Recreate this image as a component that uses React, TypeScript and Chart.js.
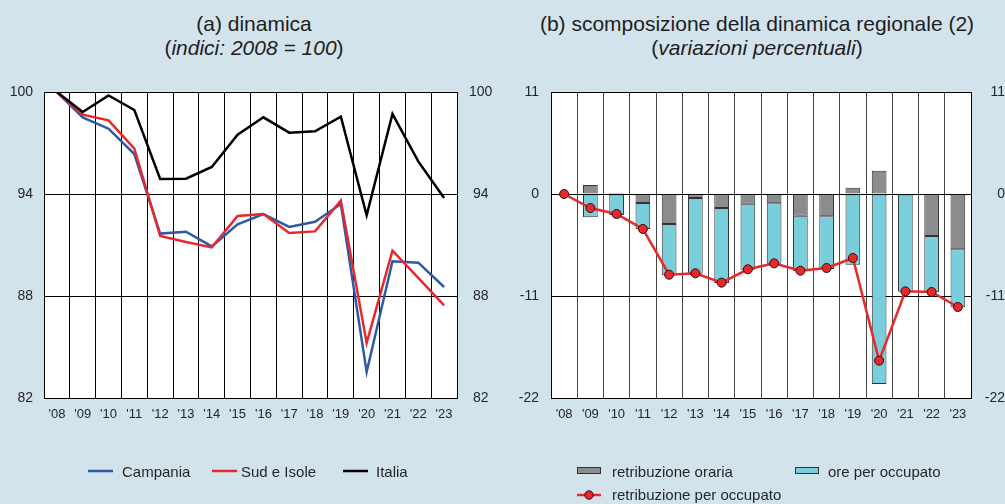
import React, { useEffect, useRef } from 'react';
import { Chart, registerables } from 'chart.js';

Chart.register(...registerables);

// ---------- data ----------
const years = ["'08", "'09", "'10", "'11", "'12", "'13", "'14", "'15", "'16", "'17", "'18", "'19", "'20", "'21", "'22", "'23"];

const campania = [100, 98.51, 97.84, 96.35, 91.67, 91.78, 90.92, 92.22, 92.82, 92.06, 92.37, 93.41, 83.53, 90.04, 89.96, 88.53];
const sudIsole = [100, 98.67, 98.33, 96.67, 91.53, 91.18, 90.86, 92.71, 92.82, 91.71, 91.8, 93.61, 85.24, 90.67, 89.06, 87.45];
const italia = [100, 98.82, 99.8, 98.94, 94.88, 94.9, 95.59, 97.49, 98.51, 97.61, 97.69, 98.55, 92.75, 98.71, 95.92, 93.76];

const retribOraria = [0, 0.97, 0.11, -0.97, -3.24, -0.43, -1.51, -1.04, -1.01, -2.34, -2.41, 0.68, 2.52, 0, -4.53, -5.97];
const orePerOccupato = [0, -2.52, -2.26, -2.8, -5.53, -8.16, -8.09, -7.12, -6.5, -6.0, -5.68, -7.62, -20.49, -10.53, -6.07, -6.25];
const retribPerOccupato = [0, -1.51, -2.16, -3.77, -8.7, -8.55, -9.56, -8.12, -7.48, -8.27, -7.98, -6.9, -17.97, -10.5, -10.57, -12.19];

const leftTicks = { min: 82, max: 100, step: 6 };
const rightTicks = { min: -22, max: 11, step: 11 };

const FONT = '"Liberation Sans", Arial, Helvetica, sans-serif';
const TEXT = '#262626';
const BG = '#d3e3ec';
const BLUE = '#2a5aa8';
const RED = '#e8282c';
const GREY = '#8a8c8d';
const CYAN = '#78cfdb';

const plotBg = {
  id: 'plotBg',
  beforeDraw(chart: any) {
    const { ctx, chartArea } = chart;
    ctx.save();
    ctx.fillStyle = '#ffffff';
    ctx.fillRect(chartArea.left, chartArea.top, chartArea.right - chartArea.left, chartArea.bottom - chartArea.top);
    ctx.restore();
  },
};

// legend for left panel: line samples
const leftLegend = {
  id: 'leftLegend',
  afterDraw(chart: any) {
    const { ctx } = chart;
    const pos = [
      { lx: 88, tx: 122 },
      { lx: 212, tx: 241 },
      { lx: 343, tx: 376 },
    ];
    ctx.save();
    ctx.font = `15px ${FONT}`;
    ctx.textBaseline = 'alphabetic';
    ctx.textAlign = 'left';
    chart.data.datasets.forEach((ds: any, i: number) => {
      const p = pos[i];
      ctx.strokeStyle = ds.borderColor;
      ctx.lineWidth = 2.5;
      ctx.beginPath();
      ctx.moveTo(p.lx, 471);
      ctx.lineTo(p.lx + 25, 471);
      ctx.stroke();
      ctx.fillStyle = TEXT;
      ctx.fillText(ds.label, p.tx, 476.5);
    });
    ctx.restore();
  },
};

// legend for right panel (canvas starts at page x = 505)
const rightLegend = {
  id: 'rightLegend',
  afterDraw(chart: any) {
    const { ctx } = chart;
    const ds = chart.data.datasets;
    ctx.save();
    ctx.font = `15px ${FONT}`;
    ctx.textBaseline = 'alphabetic';
    ctx.textAlign = 'left';
    // retribuzione oraria
    const boxes = [
      { d: ds[1], bx: 72, tx: 107 },
      { d: ds[2], bx: 290, tx: 323 },
    ];
    boxes.forEach((b) => {
      ctx.fillStyle = b.d.backgroundColor;
      ctx.fillRect(b.bx, 467, 24, 7);
      ctx.strokeStyle = '#333';
      ctx.lineWidth = 1;
      ctx.strokeRect(b.bx + 0.5, 467.5, 23, 6);
      ctx.fillStyle = TEXT;
      ctx.fillText(b.d.label, b.tx, 476.5);
    });
    // retribuzione per occupato
    const l = ds[0];
    ctx.strokeStyle = l.borderColor;
    ctx.lineWidth = 2.5;
    ctx.beginPath();
    ctx.moveTo(72, 495);
    ctx.lineTo(96, 495);
    ctx.stroke();
    ctx.beginPath();
    ctx.arc(84, 495, 4.2, 0, Math.PI * 2);
    ctx.fillStyle = l.pointBackgroundColor;
    ctx.fill();
    ctx.strokeStyle = l.pointBorderColor;
    ctx.lineWidth = 1;
    ctx.stroke();
    ctx.fillStyle = TEXT;
    ctx.fillText(l.label, 107, 500);
    ctx.restore();
  },
};

function xScale(gridColor: string) {
  return {
    type: 'category',
    offset: true,
    grid: { offset: true, color: gridColor, lineWidth: 1, drawTicks: false },
    border: { color: '#000', width: 1 },
    ticks: { font: { family: FONT, size: 13 }, color: TEXT, padding: 9, maxRotation: 0, autoSkip: false },
    afterFit: (s: any) => {
      s.height = 30;
    },
  };
}

function yScale(t: { min: number; max: number; step: number }, position: string, width: number, extra: any) {
  return {
    position,
    min: t.min,
    max: t.max,
    ticks: { stepSize: t.step, font: { family: FONT, size: 14 }, color: TEXT, ...extra },
    grid: position === 'left' ? { color: '#000', lineWidth: 1, drawTicks: false } : { display: false, drawTicks: false },
    border: { color: '#000', width: 1 },
    afterFit: (s: any) => {
      s.width = width;
    },
  };
}

export default function App() {
  const leftRef = useRef<HTMLCanvasElement>(null);
  const rightRef = useRef<HTMLCanvasElement>(null);

  useEffect(() => {
    const left = new Chart(leftRef.current as HTMLCanvasElement, {
      type: 'line',
      data: {
        labels: years,
        datasets: [
          { label: 'Campania', data: campania, borderColor: BLUE, backgroundColor: BLUE, borderWidth: 2.5, pointRadius: 0, tension: 0, order: 2 },
          { label: 'Sud e Isole', data: sudIsole, borderColor: RED, backgroundColor: RED, borderWidth: 2.5, pointRadius: 0, tension: 0, order: 1 },
          { label: 'Italia', data: italia, borderColor: '#000', backgroundColor: '#000', borderWidth: 2.5, pointRadius: 0, tension: 0, order: 0 },
        ],
      } as any,
      options: {
        animation: false,
        responsive: false,
        maintainAspectRatio: false,
        layout: { padding: { top: 92, bottom: 76, left: 0, right: 5 } },
        plugins: { legend: { display: false }, tooltip: { enabled: false }, title: { display: false } },
        scales: {
          x: xScale('#000'),
          y: yScale(leftTicks, 'left', 44, { padding: 11 }),
          y2: yScale(leftTicks, 'right', 43, { padding: 12, crossAlign: 'center' }),
        },
      } as any,
      plugins: [plotBg, leftLegend],
    });

    const right = new Chart(rightRef.current as HTMLCanvasElement, {
      type: 'bar',
      data: {
        labels: years,
        datasets: [
          {
            type: 'line',
            label: 'retribuzione per occupato',
            data: retribPerOccupato,
            borderColor: RED,
            backgroundColor: RED,
            borderWidth: 2.5,
            pointRadius: 4.5,
            pointBackgroundColor: RED,
            pointBorderColor: '#3a0a0a',
            pointBorderWidth: 1,
            tension: 0,
            order: 0,
            stack: 'line',
          },
          {
            label: 'retribuzione oraria',
            data: retribOraria,
            backgroundColor: GREY,
            borderColor: '#333',
            borderWidth: 1,
            borderSkipped: false,
            barPercentage: 0.56,
            categoryPercentage: 1,
            order: 1,
            stack: 'bars',
          },
          {
            label: 'ore per occupato',
            data: orePerOccupato,
            backgroundColor: CYAN,
            borderColor: '#333',
            borderWidth: 1,
            borderSkipped: false,
            barPercentage: 0.56,
            categoryPercentage: 1,
            order: 1,
            stack: 'bars',
          },
        ],
      } as any,
      options: {
        animation: false,
        responsive: false,
        maintainAspectRatio: false,
        layout: { padding: { top: 92, bottom: 76, left: 0, right: 0 } },
        plugins: { legend: { display: false }, tooltip: { enabled: false }, title: { display: false } },
        scales: {
          x: { ...xScale('#444'), stacked: true },
          y: { ...yScale(rightTicks, 'left', 46, { padding: 12 }), stacked: true },
          y2: yScale(rightTicks, 'right', 34, { padding: 12, crossAlign: 'far' }),
        },
      } as any,
      plugins: [plotBg, rightLegend],
    });

    return () => {
      left.destroy();
      right.destroy();
    };
  }, []);

  const titleStyle: React.CSSProperties = {
    position: 'absolute',
    top: 12,
    textAlign: 'center',
    fontFamily: FONT,
    fontSize: 21,
    lineHeight: '24px',
    color: '#1e1e1e',
    whiteSpace: 'nowrap',
  };

  return (
    <div style={{ position: 'fixed', left: 0, top: 0, width: 1005, height: 504, background: BG, overflow: 'hidden' }}>
      <div style={{ ...titleStyle, left: 0, width: 508 }}>
        (a) dinamica
        <br />
        (<i>indici: 2008 = 100</i>)
      </div>
      <div style={{ ...titleStyle, left: 508, width: 498 }}>
        (b) scomposizione della dinamica regionale (2)
        <br />
        (<i>variazioni percentuali</i>)
      </div>
      <canvas ref={leftRef} width={505} height={504} style={{ position: 'absolute', left: 0, top: 0, width: 505, height: 504 }} />
      <canvas ref={rightRef} width={500} height={504} style={{ position: 'absolute', left: 505, top: 0, width: 500, height: 504 }} />
    </div>
  );
}
